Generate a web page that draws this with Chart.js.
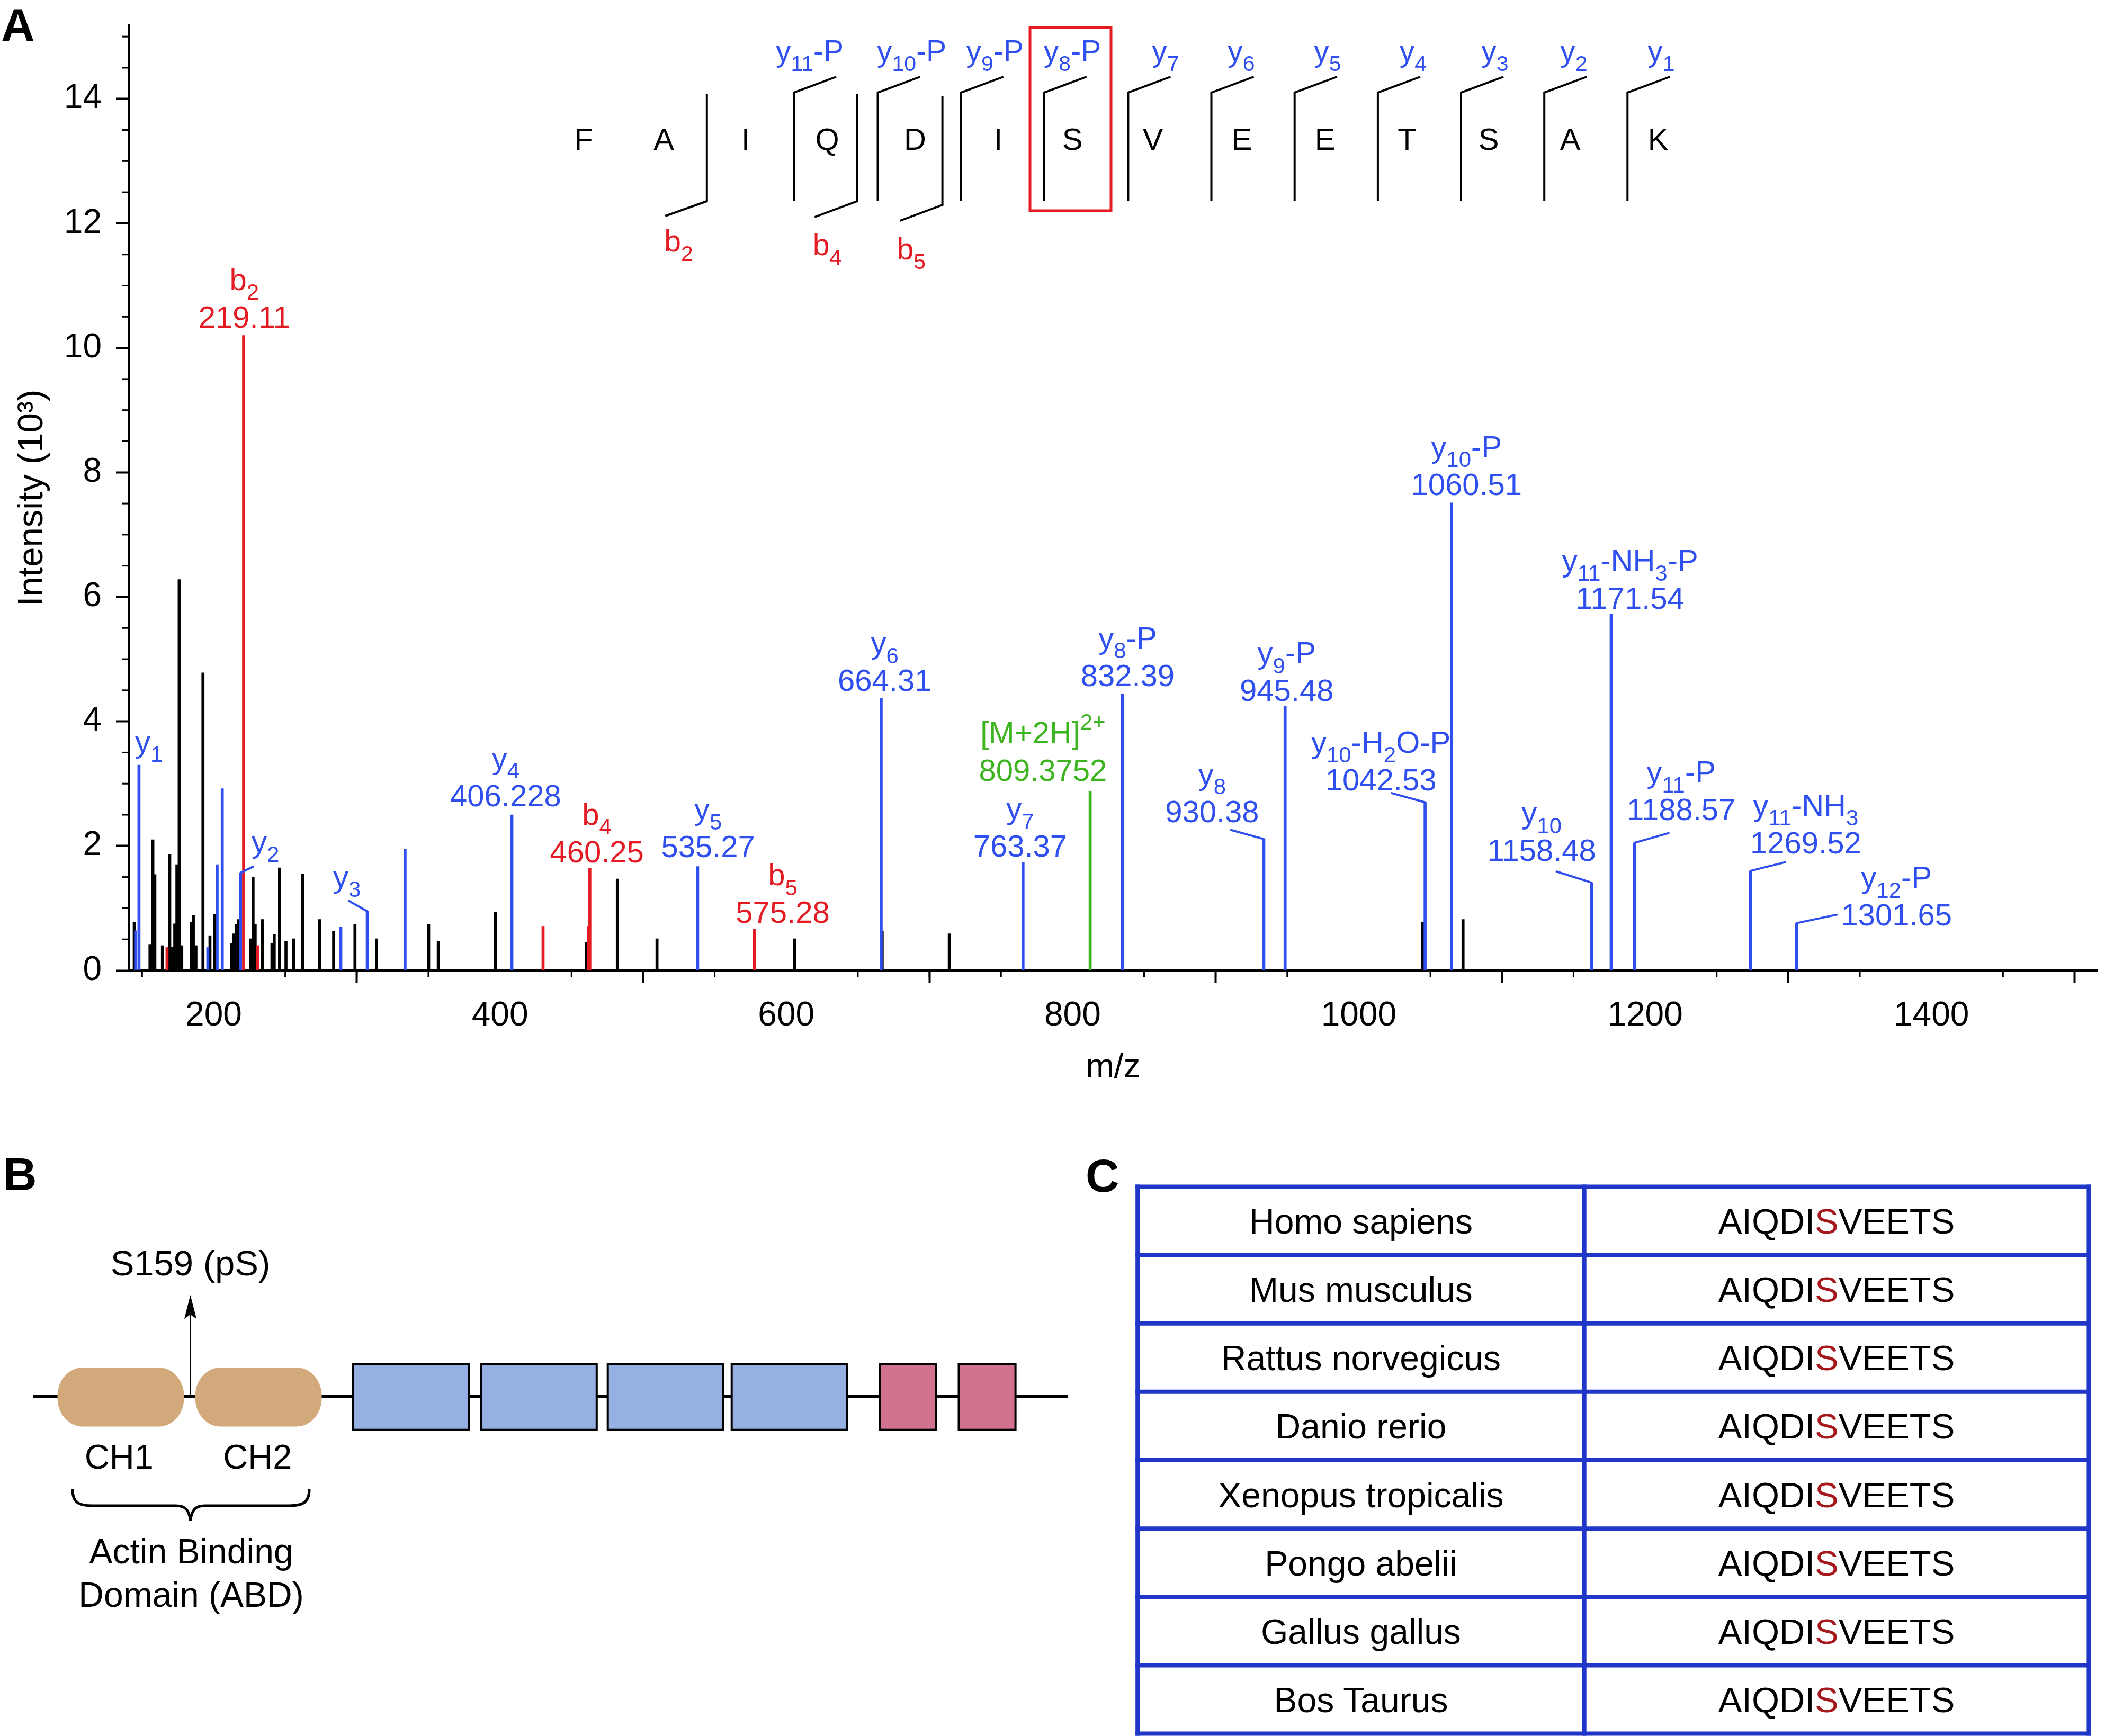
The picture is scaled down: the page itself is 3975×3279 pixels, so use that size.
<!DOCTYPE html>
<html><head><meta charset="utf-8">
<script src="https://cdn.jsdelivr.net/npm/chart.js@4.4.1/dist/chart.umd.min.js"></script>
<style>
html,body{margin:0;padding:0;background:#fff;}
#wrap{position:relative;width:3975px;height:3279px;background:#fff;overflow:hidden;}
#c{position:absolute;left:0;top:0;}
#svg{position:absolute;left:0;top:0;}
</style></head><body>
<div id="wrap"><canvas id="c" width="3975" height="2090"></canvas><svg id="svg" width="3975" height="3279" xmlns="http://www.w3.org/2000/svg"></svg></div>
<script>
// ---------------- DATA ----------------
const blackMz  = [144.5,155.5,157.5,158.9,164.2,169.3,171.2,172.8,174.3,175.9,177.7,184.4,185.8,187.6,192.5,197.4,200.8,212.4,214.0,215.8,217.4,225.9,227.5,229.0,234.1,240.7,242.3,246.0,250.5,255.8,262.1,273.9,283.8,298.7,313.8,350.2,356.9,396.8,460.5,482.0,509.7,605.8,667.0,713.9,1044.7,1072.8];
const blackInt = [0.78,0.42,2.10,1.54,0.40,1.86,0.38,0.75,1.70,6.28,0.40,0.78,0.89,0.40,4.78,0.56,0.90,0.44,0.59,0.74,0.82,0.51,1.50,0.74,0.82,0.44,0.58,1.65,0.47,0.51,1.55,0.82,0.63,0.74,0.51,0.74,0.47,0.94,0.45,1.47,0.51,0.51,0.63,0.59,0.78,0.82];
const blueMz   = [145.5,147.8,195.9,202.4,206.0,218.9,288.8,307.3,333.7,408.3,538.1,666.3,765.4,834.8,933.6,948.5,1046.3,1064.8,1162.6,1176.3,1192.7,1273.7,1305.8];
const blueInt  = [0.64,3.30,0.37,1.70,2.92,1.57,0.70,0.95,1.95,2.50,1.67,4.37,1.74,4.44,2.11,4.25,2.70,7.51,1.41,5.73,2.05,1.60,0.76];
const redMz    = [167.4,220.9,230.7,430.1,461.8,462.8,577.7];
const redInt   = [0.37,10.20,0.40,0.71,0.71,1.64,0.66];
const greenMz  = [812.3];
const greenInt = [2.88];

const xTickStep = 200, xMinorStep = 50, yTickStep = 2, yMinorStep = 0.5;

// peak annotations (text)
const ionNames  = ['y_{1}','b_{2}','y_{2}','y_{3}','y_{4}','b_{4}','y_{5}','b_{5}','y_{6}','y_{7}','[M+2H]^{2+}','y_{8}-P','y_{8}','y_{9}-P','y_{10}-H_{2}O-P','y_{10}-P','y_{11}-NH_{3}-P','y_{10}','y_{11}-P','y_{11}-NH_{3}','y_{12}-P'];
const ionMzText = ['','219.11','','','406.228','460.25','535.27','575.28','664.31','763.37','809.3752','832.39','930.38','945.48','1042.53','1060.51','1171.54','1158.48','1188.57','1269.52','1301.65'];
// annotation layout (label anchors in data units: m/z, intensity)
const labelAnchor = [[154.7,3.68],[221.4,10.50],[236.1,2.07],[293.1,1.51],[404.0,2.81],[467.7,1.91],[545.4,1.99],[597.5,0.935],[668.8,4.66],[763.4,2.00],[779.3,3.22],[838.5,4.74],[897.5,2.555],[949.6,4.50],[1015.4,3.066],[1075.2,7.81],[1189.5,5.985],[1127.7,1.93],[1225.2,2.586],[1312.2,2.056],[1375.6,0.896]];
// bent leader lines: [peak m/z, peak intensity, end m/z, end intensity]
const leaders = [[218.9,1.57,227.6,1.668],[307.3,0.95,294.4,1.118],[933.6,2.11,910.8,2.256],[1046.3,2.70,1023.0,2.848],[1162.6,1.41,1138.2,1.588],[1192.7,2.05,1216.4,2.206],[1273.7,1.60,1297.8,1.738],[1305.8,0.76,1333.9,0.896]];

// peptide
const peptide = ['F','A','I','Q','D','I','S','V','E','E','T','S','A','K'];
const yIons = ['y_{11}-P','y_{10}-P','y_{9}-P','y_{8}-P','y_{7}','y_{6}','y_{5}','y_{4}','y_{3}','y_{2}','y_{1}'];
const bIons = ['b_{2}','b_{4}','b_{5}'];

// conservation table
const species = ['Homo sapiens','Mus musculus','Rattus norvegicus','Danio rerio','Xenopus tropicalis','Pongo abelii','Gallus gallus','Bos Taurus'];
const seqs = ['AIQDISVEETS','AIQDISVEETS','AIQDISVEETS','AIQDISVEETS','AIQDISVEETS','AIQDISVEETS','AIQDISVEETS','AIQDISVEETS'];
const phosphoPos = 5;

// ---------------- STYLE ----------------
const FF = "'Liberation Sans', Arial, Helvetica, sans-serif";
const BLUE='#2f4fef', RED='#e41b23', GREEN='#3db520', TBLUE='#1f36c9', DRED='#a5191c';
const LBL = 58;
Chart.defaults.font.family = FF;

function parseRich(s){const segs=[];const re=/(_|\^)\{([^}]*)\}/g;let last=0,m;while((m=re.exec(s))){if(m.index>last)segs.push({t:s.slice(last,m.index),k:'n'});segs.push({t:m[2],k:m[1]==='_'?'sub':'sup'});last=re.lastIndex;}if(last<s.length)segs.push({t:s.slice(last),k:'n'});return segs;}
function drawRich(ctx,s,cx,cy,size,color){
  const segs=parseRich(s);
  const fnt=k=>`${k==='n'?size:Math.round(size*0.72)}px ${FF}`;
  let w=0;segs.forEach(g=>{ctx.font=fnt(g.k);g.w=ctx.measureText(g.t).width;w+=g.w;});
  let x=cx-w/2;const base=cy+0.35*size;
  ctx.fillStyle=color;ctx.textBaseline='alphabetic';ctx.textAlign='left';
  segs.forEach(g=>{ctx.font=fnt(g.k);const dy=g.k==='sub'?0.32*size:g.k==='sup'?-0.44*size:0;ctx.fillText(g.t,x,base+dy);x+=g.w;});
}
function ionColor(n){return n[0]==='b'?RED:(n[0]==='['?GREEN:BLUE);}
const pts=(xs,ys)=>xs.map((v,i)=>({x:v,y:ys[i]}));
function stepTicks(step){return function(s){const t=[];for(let v=Math.ceil(s.min/step-1e-9)*step;v<=s.max+1e-9;v+=step)t.push({value:Math.round(v*1000)/1000});s.ticks=t;};}

const annot={
  id:'annot',
  afterDraw(chart){
    const {ctx,scales:{x,y},chartArea:ca}=chart;
    ctx.save();
    ctx.strokeStyle='#000';ctx.lineWidth=3;
    for(let v=Math.ceil(x.min/xMinorStep)*xMinorStep;v<=x.max;v+=xMinorStep){
      if(v%xTickStep===0)continue;const p=x.getPixelForValue(v);
      ctx.beginPath();ctx.moveTo(p,ca.bottom);ctx.lineTo(p,ca.bottom+12);ctx.stroke();
    }
    for(let v=yMinorStep;v<=y.max;v+=yMinorStep){
      if(Math.abs(v/yTickStep-Math.round(v/yTickStep))<1e-6)continue;const p=y.getPixelForValue(v);
      ctx.beginPath();ctx.moveTo(ca.left,p);ctx.lineTo(ca.left-12,p);ctx.stroke();
    }
    ctx.strokeStyle=BLUE;ctx.lineWidth=4;ctx.lineCap='round';
    leaders.forEach(([m0,h0,m1,h1])=>{ctx.beginPath();ctx.moveTo(x.getPixelForValue(m0),y.getPixelForValue(h0));ctx.lineTo(x.getPixelForValue(m1),y.getPixelForValue(h1));ctx.stroke();});
    ionNames.forEach((n,i)=>{
      const px=x.getPixelForValue(labelAnchor[i][0]),py=y.getPixelForValue(labelAnchor[i][1]);
      const col=ionColor(n);
      if(ionMzText[i]){drawRich(ctx,ionMzText[i],px,py,LBL,col);drawRich(ctx,n,px,py-71,LBL,col);}
      else drawRich(ctx,n,px,py,LBL,col);
    });
    ctx.restore();
  }
};

new Chart(document.getElementById('c').getContext('2d'),{
  type:'bar',
  data:{datasets:[
    {label:'precursor',data:pts(greenMz,greenInt),backgroundColor:GREEN,order:1},
    {label:'b ions',data:pts(redMz,redInt),backgroundColor:RED,order:2},
    {label:'y ions',data:pts(blueMz,blueInt),backgroundColor:BLUE,order:3},
    {label:'unassigned',data:pts(blackMz,blackInt),backgroundColor:'#000',order:4}
  ]},
  options:{
    responsive:false,animation:false,devicePixelRatio:1,
    layout:{padding:{top:48,right:14,left:0,bottom:0}},
    datasets:{bar:{barThickness:5,grouped:false,borderWidth:0}},
    plugins:{legend:{display:false},tooltip:{enabled:false},title:{display:false}},
    scales:{
      x:{type:'linear',min:140.62,max:1516.1,offset:false,
        afterBuildTicks:stepTicks(xTickStep),
        afterFit(s){s.height=257;s.paddingLeft=0;s.paddingRight=0;},
        ticks:{font:{size:64},color:'#000',padding:25,maxRotation:0,autoSkip:false,callback:v=>String(v)},
        grid:{display:true,drawOnChartArea:false,drawTicks:true,tickLength:23,tickWidth:4,tickColor:'#000',color:'#000'},
        border:{display:true,color:'#000',width:5},
        title:{display:true,text:'m/z',font:{size:64},color:'#000',padding:{top:0,bottom:34}}},
      y:{type:'linear',min:0,max:15.18,
        afterBuildTicks:stepTicks(yTickStep),
        afterFit(s){s.width=243;s.paddingTop=0;s.paddingBottom=0;},
        ticks:{font:{size:64},color:'#000',padding:27,autoSkip:false,callback:v=>String(v)},
        grid:{display:true,drawOnChartArea:false,drawTicks:true,tickLength:24,tickWidth:4,tickColor:'#000',color:'#000'},
        border:{display:true,color:'#000',width:5},
        title:{display:true,text:'Intensity (10³)',font:{size:67},color:'#000',padding:{top:21,bottom:0}}}
    }
  },
  plugins:[annot]
});

// ---------------- SVG (peptide map, panels B & C) ----------------
const NS='http://www.w3.org/2000/svg';const svg=document.getElementById('svg');
function el(tag,attrs,parent){const e=document.createElementNS(NS,tag);for(const k in attrs)e.setAttribute(k,attrs[k]);(parent||svg).appendChild(e);return e;}
function svgRich(s,x,y,size,color,anchor,weight){
  const t=el('text',{x:x,y:y,'font-size':size,fill:color,'text-anchor':anchor||'middle','font-family':FF,'font-weight':weight||'normal'});
  let shift=0;
  parseRich(s).forEach(g=>{const target=g.k==='sub'?size*0.32:g.k==='sup'?-size*0.44:0;const ts=el('tspan',{dy:target-shift},t);if(g.k!=='n')ts.setAttribute('font-size',Math.round(size*0.72));ts.textContent=g.t;shift=target;});
  return t;
}
// panel letters
svgRich('A',2,77,88,'#000','start','bold');
svgRich('B',6,2248,88,'#000','start','bold');
svgRich('C',2050,2251,88,'#000','start','bold');

// peptide fragment map
const letterX=[1102,1253.5,1408,1562,1728,1885,2025,2177,2345,2502,2657,2811,2965,3131];
peptide.forEach((a,i)=>svgRich(a,letterX[i],283,58,'#000'));
const yBrX=[1499,1657.5,1814.7,1971.8,2130.4,2287.5,2444.7,2601.9,2759,2916.2,3073.3];
const yLabX=[1529,1721.6,1878.6,2025,2201,2344,2507,2668.5,2823,2972,3137];
yBrX.forEach((bx,i)=>{
  el('path',{d:`M${bx} 380 L${bx} 175 L${bx+80} 145`,stroke:'#000','stroke-width':4,fill:'none'});
  svgRich(yIons[i],yLabX[i],116,57,BLUE);
});
const bBr=[[1334.8,177,380,1256.3,408],[1618.3,177,380,1538.3,410],[1779.6,182,387,1699.6,417]];
const bLab=[[1281.5,475],[1562,482],[1720.7,490]];
bBr.forEach((b,i)=>{
  el('path',{d:`M${b[0]} ${b[1]} L${b[0]} ${b[2]} L${b[3]} ${b[4]}`,stroke:'#000','stroke-width':4,fill:'none'});
  svgRich(bIons[i],bLab[i][0],bLab[i][1],57,RED);
});
el('rect',{x:1945,y:52,width:153,height:346,fill:'none',stroke:RED,'stroke-width':5});

// panel B
el('line',{x1:62.7,y1:2637.5,x2:2017,y2:2637.5,stroke:'#000','stroke-width':7});
el('rect',{x:108.5,y:2583,width:239,height:111.5,rx:48,ry:54,fill:'#d1a97b'});
el('rect',{x:368.6,y:2583,width:239,height:111.5,rx:48,ry:54,fill:'#d1a97b'});
el('line',{x1:359.5,y1:2637,x2:359.5,y2:2478,stroke:'#000','stroke-width':3});
el('path',{d:'M359.5 2446 L371 2491 L359.5 2483 L348 2491 Z',fill:'#000'});
[[666.7,885],[908.5,1126.8],[1147.7,1366],[1381.7,1600]].forEach(([a,b])=>el('rect',{x:a,y:2576,width:b-a,height:124.7,fill:'#95b0e3',stroke:'#000','stroke-width':4}));
[[1661.4,1767.3],[1810.5,1917.6]].forEach(([a,b])=>el('rect',{x:a,y:2576,width:b-a,height:124.7,fill:'#d1738f',stroke:'#000','stroke-width':4}));
svgRich('S159 (pS)',359.5,2409,67,'#000');
svgRich('CH1',224.8,2774,65,'#000');
svgRich('CH2',486.3,2774,65,'#000');
el('path',{d:'M137 2813 C137 2838 148 2844 175 2844 L332 2844 C350 2844 357 2852 359.5 2872 C362 2852 369 2844 387 2844 L546 2844 C572 2844 584 2838 584 2813',stroke:'#000','stroke-width':5,fill:'none'});
svgRich('Actin Binding',361,2953,66,'#000');
svgRich('Domain (ABD)',361,3035,66,'#000');

// panel C table
const tL=2148.2,tR=3944.4,tDiv=2991.7,tT=2241.4,tB=3274.6,rowH=(tB-tT)/species.length;
species.forEach((sp,i)=>{
  const cy=tT+rowH*(i+0.5);
  svgRich(sp,(tL+tDiv)/2,cy+24,66,'#000');
  const t=el('text',{x:(tDiv+tR)/2,y:cy+24,'font-size':67,'text-anchor':'middle','font-family':FF,fill:'#000'});
  const s=seqs[i];
  el('tspan',{},t).textContent=s.slice(0,phosphoPos);
  el('tspan',{fill:DRED},t).textContent=s[phosphoPos];
  el('tspan',{},t).textContent=s.slice(phosphoPos+1);
});
for(let i=0;i<=species.length;i++){const yy=tT+rowH*i;el('line',{x1:tL-4,y1:yy,x2:tR+4,y2:yy,stroke:TBLUE,'stroke-width':8});}
[tL,tDiv,tR].forEach(xx=>el('line',{x1:xx,y1:tT-4,x2:xx,y2:tB+4,stroke:TBLUE,'stroke-width':8}));
</script>
</body></html>
